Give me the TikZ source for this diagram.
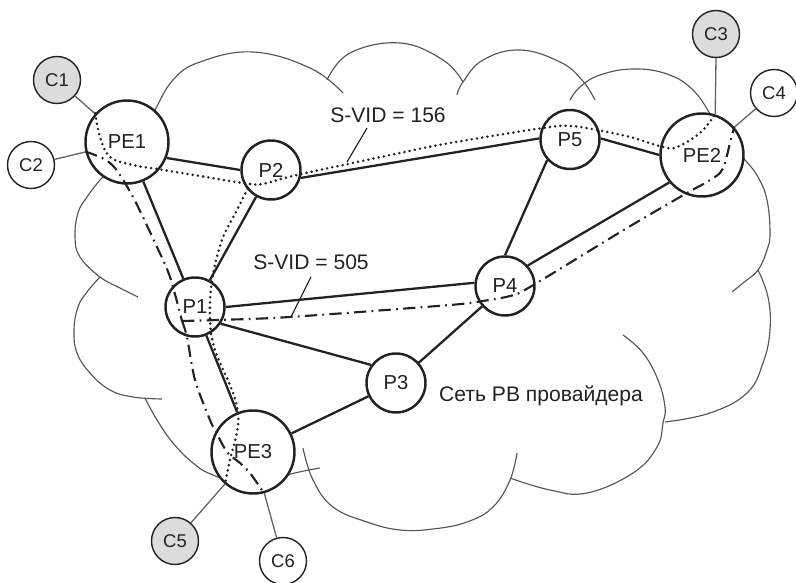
\documentclass[tikz,border=0pt]{standalone}
\usepackage{fontspec}
\setmainfont{Liberation Sans}
\setsansfont{Liberation Sans}
\definecolor{ink}{HTML}{222222}
\definecolor{cloudg}{HTML}{555555}
\definecolor{clinkg}{HTML}{666666}
\definecolor{shade}{HTML}{DCDCDC}
\tikzset{
  every node/.append style={font=\sffamily, text=ink},
  router/.style={circle, draw=ink, fill=white, line width=1.4pt, inner sep=0pt,
                 font=\sffamily\fontsize{11.5}{13}\selectfont},
  prouter/.style={router, minimum size=1.18cm},
  perouter/.style={router, minimum size=1.66cm},
  cust/.style={circle, draw=ink, fill=white, line width=0.8pt, inner sep=0pt,
               minimum size=0.94cm, font=\sffamily\fontsize{10.5}{12}\selectfont},
  custg/.style={cust, fill=shade},
  link/.style={line width=1.3pt, draw=ink},
  clink/.style={line width=0.75pt, draw=clinkg},
  lobe/.style={line width=0.65pt, draw=cloudg},
  vid156/.style={line width=1.6pt, draw=ink, line cap=round, dash pattern=on 0pt off 3pt},
  vid505/.style={line width=1.2pt, draw=ink, dash pattern=on 7pt off 3pt on 1pt off 3pt},
  ptr/.style={line width=0.65pt, draw=ink},
  vidlbl/.style={inner sep=0pt, font=\sffamily\fontsize{12}{14}\selectfont},
}

\begin{document}
\begin{tikzpicture}
  \useasboundingbox (0,0) rectangle (15.92,11.66);
  % --- provider cloud ---
  \draw[lobe] plot[smooth, tension=0.7] coordinates {(2.96,9.22) (3.10,9.46) (3.46,10.06) (4.00,10.42) (5.06,10.62) (6.20,10.30) (6.86,9.80)};
  \draw[lobe] plot[smooth, tension=0.7] coordinates {(6.54,10.06) (7.00,10.60) (8.00,10.80) (8.86,10.46) (9.26,10.02)};
  \draw[lobe] plot[smooth, tension=0.7] coordinates {(9.14,9.76) (9.26,10.02) (9.66,10.46) (10.40,10.66) (11.20,10.42) (11.64,10.06) (11.90,9.66)};
  \draw[lobe] plot[smooth, tension=0.7] coordinates {(11.40,9.66) (11.60,9.92) (12.00,10.16) (12.66,10.28) (13.34,10.18) (13.86,9.86) (14.24,9.32) (14.36,9.10)};
  \draw[lobe] plot[smooth, tension=0.7] coordinates {(14.70,8.66) (14.90,8.46) (15.16,8.12) (15.34,7.66) (15.40,7.00) (15.34,6.66) (15.16,6.26) (14.86,6.00) (14.64,5.82)};
  \draw[lobe] plot[smooth, tension=0.7] coordinates {(15.16,6.26) (15.36,5.72) (15.40,5.06) (15.26,4.40) (14.94,3.80) (14.20,3.40) (13.30,3.22)};
  \draw[lobe] plot[smooth, tension=0.7] coordinates {(12.46,4.96) (12.86,4.60) (13.16,4.06) (13.30,3.52) (13.26,3.20) (13.14,2.72) (12.66,2.20) (11.74,1.80) (11.00,1.86) (10.20,2.10)};
  \draw[lobe] plot[smooth, tension=0.7] coordinates {(10.34,2.60) (10.20,2.06) (9.86,1.52) (9.34,1.22) (8.66,1.08) (8.00,1.06) (7.34,1.22) (6.66,1.52) (6.26,2.06) (6.06,2.70)};
  \draw[lobe] plot[smooth, tension=0.7] coordinates {(2.90,3.70) (3.14,3.26) (3.46,2.80) (3.86,2.40) (4.26,2.16) (5.06,1.92) (5.74,2.16) (6.40,2.30)};
  \draw[lobe] plot[smooth, tension=0.7] coordinates {(2.00,6.12) (1.74,5.82) (1.56,5.52) (1.48,5.06) (1.54,4.60) (1.80,4.20) (2.20,3.86) (2.66,3.72) (3.24,3.68)};
  \draw[lobe] plot[smooth, tension=0.7] coordinates {(2.16,8.22) (2.00,8.06) (1.74,7.72) (1.56,7.40) (1.50,6.92) (1.60,6.52) (2.00,6.12) (2.40,5.90) (2.76,5.72)};
  \node[font=\sffamily\fontsize{12}{14}\selectfont] (net) at (10.82,3.74) {Сеть РВ провайдера};
  % --- routers ---
  \node[perouter] (PE1) at (2.54,8.82) {PE1};
  \node[perouter] (PE2) at (14.04,8.56) {PE2};
  \node[perouter] (PE3) at (5.06,2.62) {PE3};
  \node[prouter] (P1) at (3.90,5.52) {P1};
  \node[prouter] (P2) at (5.42,8.26) {P2};
  \node[prouter] (P3) at (7.92,4.00) {P3};
  \node[prouter] (P4) at (10.10,5.94) {P4};
  \node[prouter] (P5) at (11.40,8.87) {P5};
  % --- customers ---
  \node[custg] (C1) at (1.14,10.06) {C1};
  \node[cust]  (C2) at (0.62,8.36) {C2};
  \node[custg] (C3) at (14.32,10.98) {C3};
  \node[cust]  (C4) at (15.48,9.80) {C4};
  \node[custg] (C5) at (3.50,0.84) {C5};
  \node[cust]  (C6) at (5.66,0.44) {C6};
  % --- links ---
  \draw[link] (PE1.-22) -- (P2.180);
  \draw[link] (PE1) -- (P1);
  \draw[link] (P2) -- (P1);
  \draw[link] (P2.-15) -- (P5.178);
  \draw[link] (P5.2) -- (PE2.180);
  \draw[link] (P5.222) -- (P4.90);
  \draw[link] (P1.0) -- (P4.174);
  \draw[link] (P1.-33) -- (P3.144);
  \draw[link] (P1) -- (PE3);
  \draw[link] (P3) -- (PE3);
  \draw[link] (P3) -- (P4);
  \draw[link] (P4.42) -- (PE2.220);
  \draw[clink] (C1) -- (PE1);
  \draw[clink] (C2) -- (PE1);
  \draw[clink] (C3.south) -- (PE2.72);
  \draw[clink] (C4) -- (PE2);
  \draw[clink] (C5) -- (PE3);
  \draw[clink] (C6) -- (PE3);
  % --- S-VID 156 ---
  \coordinate (br156) at (5.00,7.98);
  \draw[vid156] plot[smooth, tension=0.6] coordinates {(PE1.138) (2.00,8.92) (2.20,8.52) (2.66,8.36) (3.14,8.28) (4.00,8.14) (br156) (5.34,8.00) (5.94,8.16) (8.00,8.60) (9.00,8.80) (10.86,9.10) (11.40,9.14) (11.94,9.06) (12.60,8.92) (13.26,8.72) (13.54,8.72) (14.00,9.00) (PE2.72)};
  \draw[vid156] plot[smooth, tension=0.6] coordinates {(br156) (4.72,7.42) (4.44,6.86) (4.24,6.06) (4.20,5.26) (4.30,4.66) (4.64,3.86) (4.76,3.40) (4.74,3.02) (4.60,2.46) (PE3.229)};
  % --- S-VID 505 ---
  \coordinate (J) at (3.64,5.24);
  \draw[vid505] plot[smooth, tension=0.5] coordinates {(PE1.193) (2.04,8.50) (2.30,8.30) (2.66,7.72) (3.14,6.72) (3.40,6.12) (J)};
  \draw[vid505] plot[smooth, tension=0.5] coordinates {(J) (4.34,5.26) (5.80,5.32) (9.00,5.56) (9.66,5.64) (10.20,5.74) (10.60,5.92) (12.54,7.10) (13.74,7.80) (14.14,8.02) (14.40,8.20) (14.50,8.40) (14.60,8.80) (PE2.41)};
  \draw[vid505] plot[smooth, tension=0.5] coordinates {(J) (3.74,4.92) (3.90,4.06) (4.20,3.26) (4.30,3.06) (4.54,2.62) (4.80,2.40) (5.00,2.20) (PE3.285)};
  % --- labels ---
  \node[vidlbl] (lbl156) at (7.76,9.36) {S-VID = 156};
  \node[vidlbl] (lbl505) at (6.22,6.42) {S-VID = 505};
  \coordinate (tip156) at (6.94,8.42);
  \coordinate (tip505) at (5.82,5.32);
  \draw[ptr] ([xshift=-0.42cm,yshift=-3pt]lbl156.south) -- (tip156);
  \draw[ptr] ([yshift=-4pt]lbl505.south) -- (tip505);
\end{tikzpicture}
\end{document}
